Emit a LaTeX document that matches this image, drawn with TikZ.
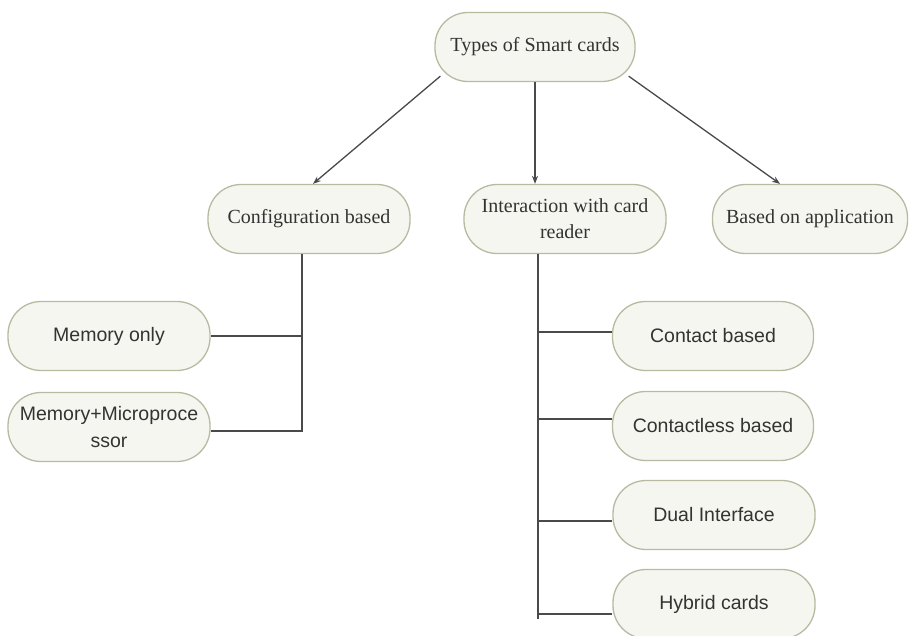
\documentclass[tikz,border=0pt]{standalone}
\usepackage{fontspec}
\setmainfont{Liberation Serif}
\setsansfont{Liberation Sans}
\usetikzlibrary{arrows.meta,calc}
\definecolor{boxfill}{HTML}{F6F6F0}
\definecolor{boxline}{HTML}{B9B9A2}
\definecolor{linec}{HTML}{4A4A4A}
\definecolor{textc}{HTML}{333333}
\tikzset{
  pill/.style={draw=boxline, fill=boxfill, line width=1.3pt, rounded corners=33pt,
    minimum height=69pt, align=center, text=textc, inner sep=2pt},
  serifpill/.style={pill, font=\fontsize{20}{26}\selectfont\rmfamily},
  sanspill/.style={pill, font=\fontsize{19.5}{27}\selectfont\sffamily},
  conn/.style={draw=linec, line width=1.3pt},
  arr/.style={conn, -{Stealth[length=8pt,width=6pt]}}
}
\begin{document}
\begin{tikzpicture}[x=1pt,y=-1pt]
\useasboundingbox (0,0) rectangle (909,635);
% top level
\node[serifpill, minimum width=200pt] (top) at (535,47) {Types of Smart cards};
\node[serifpill, minimum width=202pt] (config) at (309,219) {Configuration based};
\node[serifpill, minimum width=202pt] (inter) at (565,219) {Interaction with card\\reader};
\node[serifpill, minimum width=195pt] (app) at (810,219) {Based on application};
% configuration children
\node[sanspill, minimum width=202pt] (memonly) at (109,336) {Memory only};
\node[sanspill, minimum width=202pt] (memmicro) at (109,427) {Memory+Microproce\\ssor};
% interaction children
\node[sanspill, minimum width=201pt] (contact) at (713,336) {Contact based};
\node[sanspill, minimum width=201pt] (contactless) at (713,426) {Contactless based};
\node[sanspill, minimum width=202pt] (dual) at (714,515) {Dual Interface};
\node[sanspill, minimum width=202pt] (hybrid) at (714,604) {Hybrid cards};
% arrows from top
\draw[arr] ([xshift=6pt,yshift=6pt]top.south west) -- ([xshift=4pt]config.north);
\draw[arr] (top.south) -- (top.south |- inter.north);
\draw[arr] ([xshift=-7pt,yshift=6pt]top.south east) -- ([xshift=-30pt]app.north);
% configuration tree
\coordinate (cspine) at ([xshift=-7pt]config.south);
\draw[conn] (cspine) |- ([yshift=-4pt]memmicro.east);
\draw[conn] (memonly.east) -- (memonly.east -| cspine);
% interaction tree
\coordinate (ispine) at ([xshift=-27pt]inter.south);
\coordinate (iend) at ($(ispine)+(0,365)$);
\draw[conn] (ispine) -- (iend);
\draw[conn] (ispine |- {$(contact.west)+(0,-4)$}) -- ([yshift=4pt]contact.west);
\draw[conn] (ispine |- {$(contactless.west)+(0,-7)$}) -- ([yshift=7pt]contactless.west);
\draw[conn] (ispine |- {$(dual.west)+(0,6)$}) -- ([yshift=-6pt]dual.west);
\draw[conn] (ispine |- {$(hybrid.west)+(0,10)$}) -- ([yshift=-10pt]hybrid.west);
\end{tikzpicture}
\end{document}
